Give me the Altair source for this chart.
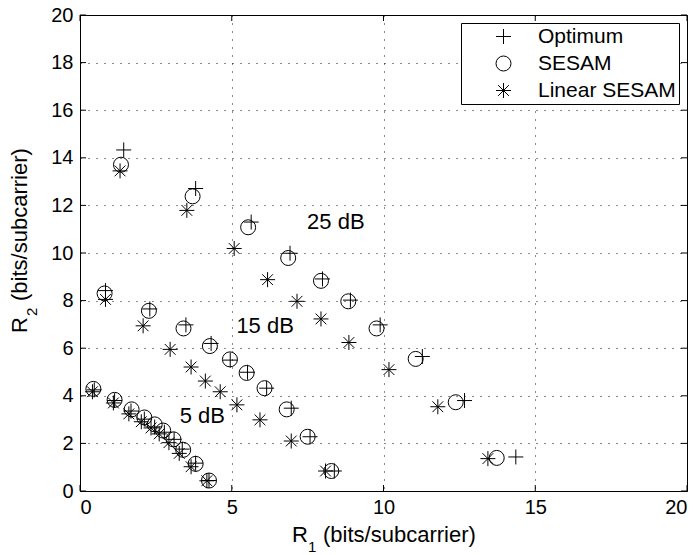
import altair as alt
import pandas as pd

# ---- data ----
opt25_x = [1.44, 3.81, 5.64, 6.92, 7.99, 8.91, 9.89, 11.28, 12.67, 14.36]
opt25_y = [14.33, 12.71, 11.30, 9.99, 8.91, 8.02, 6.98, 5.65, 3.80, 1.43]
ses25_x = [1.35, 3.71, 5.54, 6.86, 7.94, 8.84, 9.77, 11.06, 12.38, 13.73]
ses25_y = [13.71, 12.38, 11.08, 9.79, 8.83, 7.97, 6.83, 5.55, 3.73, 1.39]
lin25_x = [1.32, 3.52, 5.08, 6.18, 7.15, 7.94, 8.86, 10.18, 11.79, 13.44]
lin25_y = [13.45, 11.79, 10.19, 8.88, 7.97, 7.23, 6.24, 5.10, 3.54, 1.36]

opt15_x = [0.84, 2.30, 3.49, 4.32, 4.95, 5.52, 6.15, 6.96, 7.58, 8.38]
opt15_y = [8.42, 7.65, 6.98, 6.20, 5.50, 4.99, 4.32, 3.48, 2.28, 0.84]
ses15_x = [0.81, 2.27, 3.41, 4.28, 4.94, 5.49, 6.08, 6.81, 7.50, 8.28]
ses15_y = [8.30, 7.57, 6.83, 6.09, 5.53, 4.96, 4.32, 3.43, 2.28, 0.84]
lin15_x = [0.84, 2.08, 2.97, 3.66, 4.13, 4.62, 5.17, 5.93, 6.96, 8.09]
lin15_y = [8.05, 6.94, 5.95, 5.21, 4.62, 4.17, 3.62, 2.99, 2.10, 0.84]

opt5_x = [0.47, 1.14, 1.68, 2.12, 2.46, 2.78, 3.10, 3.37, 3.81, 4.25]
opt5_y = [4.25, 3.80, 3.36, 3.02, 2.69, 2.47, 2.17, 1.76, 1.17, 0.44]
ses5_x = [0.44, 1.14, 1.70, 2.12, 2.46, 2.74, 3.08, 3.40, 3.81, 4.25]
ses5_y = [4.29, 3.83, 3.43, 3.09, 2.80, 2.54, 2.17, 1.73, 1.14, 0.44]
lin5_x = [0.41, 1.10, 1.61, 2.02, 2.34, 2.61, 2.93, 3.27, 3.66, 4.18]
lin5_y = [4.17, 3.70, 3.24, 2.91, 2.65, 2.40, 2.03, 1.58, 1.02, 0.43]

series_names = ["Optimum", "SESAM", "Linear SESAM"]

ann_text = ["25 dB", "15 dB", "5 dB"]
ann_x = [8.43, 6.10, 4.03]
ann_y = [11.32, 6.93, 3.15]

x_ticks = [0, 5, 10, 15, 20]
y_ticks = [0, 2, 4, 6, 8, 10, 12, 14, 16, 18, 20]

# ---- build tables ----
rows = []
groups = [
    ("Optimum", [(opt25_x, opt25_y), (opt15_x, opt15_y), (opt5_x, opt5_y)]),
    ("SESAM", [(ses25_x, ses25_y), (ses15_x, ses15_y), (ses5_x, ses5_y)]),
    ("Linear SESAM", [(lin25_x, lin25_y), (lin15_x, lin15_y), (lin5_x, lin5_y)]),
]
for name, sets in groups:
    for xs, ys in sets:
        for a, b in zip(xs, ys):
            rows.append({"R1": a, "R2": b, "series": name})
df = pd.DataFrame(rows)
ann = pd.DataFrame({"text": ann_text, "x": ann_x, "y": ann_y})
xt = pd.DataFrame({"v": x_ticks})
yt = pd.DataFrame({"v": y_ticks})
one = pd.DataFrame({"k": [0]})

W, H = 607, 476
FONT = "Liberation Sans"

plus_path = "M-1,0L1,0M0,-1L0,1"
star_path = "M-1,0L1,0M0,-1L0,1M-0.72,-0.72L0.72,0.72M-0.72,0.72L0.72,-0.72"

xscale = alt.Scale(domain=[0, 20], nice=False, zero=False)
yscale = alt.Scale(domain=[0, 20], nice=False, zero=False)

points = alt.Chart(df).mark_point(filled=False, strokeWidth=1, color="black", size=225, opacity=1).encode(
    x=alt.X("R1:Q", scale=xscale,
            axis=alt.Axis(values=x_ticks, title=None, grid=True,
                          tickSize=0, labelPadding=6)),
    y=alt.Y("R2:Q", scale=yscale,
            axis=alt.Axis(values=y_ticks, title=None, grid=True,
                          tickSize=0, labelPadding=7)),
    shape=alt.Shape("series:N",
                    scale=alt.Scale(domain=series_names, range=[plus_path, "circle", star_path]),
                    legend=alt.Legend(title=None, orient="top-right", offset=8,
                                      strokeColor="black", fillColor="white", padding=3,
                                      symbolOffset=29, labelOffset=24, symbolSize=225,
                                      symbolStrokeWidth=1, symbolStrokeColor="black",
                                      symbolOpacity=1,
                                      labelFont=FONT, labelFontSize=21, labelColor="black",
                                      rowPadding=5, labelLimit=300)),
)

labels = alt.Chart(ann).mark_text(font=FONT, fontSize=22, color="black").encode(
    x=alt.X("x:Q", scale=xscale), y=alt.Y("y:Q", scale=yscale), text="text:N"
)

# axis titles with real subscripts
TFS = 22
SFS = 15
def txt(s, size, x, y, angle=None):
    kw = dict(text=s, font=FONT, fontSize=size, align="left", baseline="alphabetic", color="black")
    if angle is not None:
        kw["angle"] = angle
    return alt.Chart(one).mark_text(**kw).encode(x=alt.value(x), y=alt.value(y))

xt_R = txt("R", TFS, 212, 527)
xt_1 = txt("1", SFS, 228, 537)
xt_rest = txt("(bits/subcarrier)", TFS, 243, 527)
yt_R = txt("R", TFS, -53, 318, 270)
yt_2 = txt("2", SFS, -43, 301, 270)
yt_rest = txt("(bits/subcarrier)", TFS, -53, 286, 270)

tick_b = alt.Chart(xt).mark_rule(color="black", strokeWidth=1).encode(
    x=alt.X("v:Q", scale=xscale), y=alt.value(H), y2=alt.value(H - 6))
tick_t = alt.Chart(xt).mark_rule(color="black", strokeWidth=1).encode(
    x=alt.X("v:Q", scale=xscale), y=alt.value(0), y2=alt.value(6))
tick_l = alt.Chart(yt).mark_rule(color="black", strokeWidth=1).encode(
    y=alt.Y("v:Q", scale=yscale), x=alt.value(0), x2=alt.value(6))
tick_r = alt.Chart(yt).mark_rule(color="black", strokeWidth=1).encode(
    y=alt.Y("v:Q", scale=yscale), x=alt.value(W), x2=alt.value(W - 6))

chart = alt.layer(tick_b, tick_t, tick_l, tick_r, points, labels,
                  xt_R, xt_1, xt_rest, yt_R, yt_2, yt_rest).properties(
    width=W, height=H,
    autosize=alt.AutoSizeParams(type="none"),
    padding={"left": 80, "top": 15, "right": 11, "bottom": 64},
    background="white",
).configure_view(
    stroke="black", strokeWidth=1
).configure_axis(
    domainColor="black", domainWidth=1,
    gridColor="black", gridDash=[1, 7], gridWidth=1, gridOpacity=0.9,
    labelFont=FONT, labelFontSize=20, labelColor="black",
)

chart.save("out.html", embed_options={"renderer": "svg", "actions": False})
